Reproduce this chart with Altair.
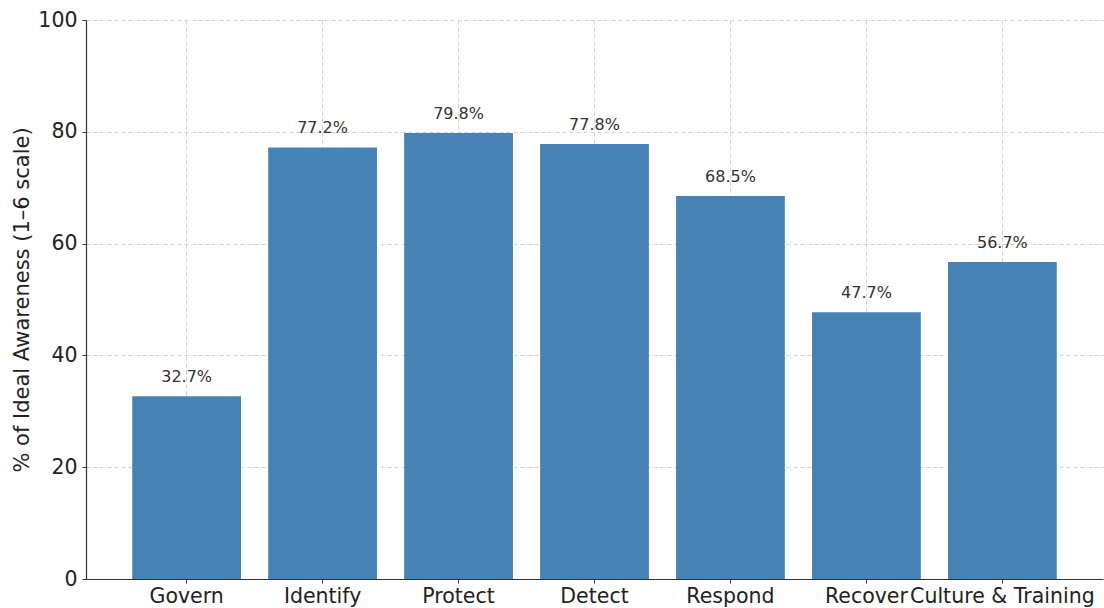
import altair as alt
import pandas as pd

categories = ["Govern", "Identify", "Protect", "Detect", "Respond", "Recover", "Culture & Training"]
values = [32.7, 77.2, 79.8, 77.8, 68.5, 47.7, 56.7]
y_ticks = [0, 20, 40, 60, 80, 100]

df = pd.DataFrame({"category": categories, "value": values})
df["label"] = [f"{v:.1f}%" for v in values]

FONT = "DejaVu Sans"

x_enc = alt.X(
    "category:N",
    sort=categories,
    scale=alt.Scale(paddingInner=0.2, paddingOuter=0.34),
    axis=alt.Axis(
        title=None,
        labelAngle=0,
        labelFontSize=20.5,
        labelColor="#222222",
        labelPadding=3,
        labelOverlap=False,
        labelLimit=400,
        labelBound=False,
        tickSize=4,
        tickColor="#333333",
        domainColor="#333333",
        domainWidth=1.2,
        grid=True,
        gridColor="#cccccc",
        gridDash=[4, 3],
        gridWidth=0.9,
        bandPosition=0.5,
    ),
)

y_enc = alt.Y(
    "value:Q",
    scale=alt.Scale(domain=[0, 100], nice=False),
    axis=alt.Axis(
        title="% of Ideal Awareness (1–6 scale)",
        titleFontSize=21,
        titleFontWeight="normal",
        titleColor="#222222",
        titlePadding=5,
        values=y_ticks,
        labelFontSize=20.5,
        labelColor="#222222",
        labelPadding=5,
        tickSize=4,
        tickColor="#333333",
        domainColor="#333333",
        domainWidth=1.2,
        grid=True,
        gridColor="#cccccc",
        gridDash=[4, 3],
        gridWidth=0.9,
    ),
)

bars = alt.Chart(df).mark_bar(color="#4682B4").encode(x=x_enc, y=y_enc)

text = alt.Chart(df).mark_text(
    baseline="bottom", dy=-11, fontSize=16, color="#333333", font=FONT
).encode(
    x=alt.X("category:N", sort=categories),
    y=alt.Y("value:Q"),
    text="label:N",
)

chart = (
    alt.layer(bars, text)
    .properties(
        width=1017,
        height=559,
        autosize="none",
        padding={"left": 86, "top": 20, "right": 1, "bottom": 29},
    )
    .configure(font=FONT)
    .configure_axis(labelFont=FONT, titleFont=FONT)
    .configure_view(strokeWidth=0)
)

chart.save("out.html", embed_options={"renderer": "svg", "actions": False})
